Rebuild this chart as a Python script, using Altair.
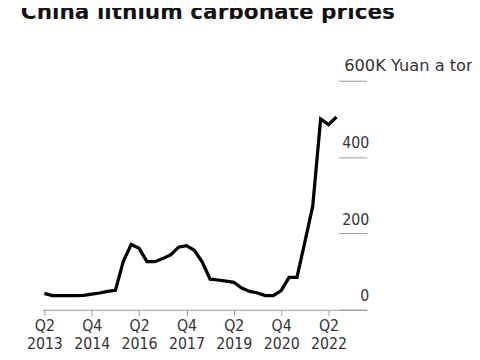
import altair as alt
import pandas as pd

# Quarterly prices, thousand yuan per ton, Q2 2013 .. Q3 2022
prices = [43, 37, 37, 37, 37, 38, 41, 44, 48, 51,
          127, 171, 161, 126, 126, 134, 144, 164, 168, 156,
          125, 80, 78, 75, 72, 57, 48, 44, 37, 37,
          50, 85, 85, 177, 272, 500, 485, 505]
quarter_index = list(range(len(prices)))

tick_values = [0, 6, 12, 18, 24, 30, 36]
tick_quarters = ["Q2", "Q4", "Q2", "Q4", "Q2", "Q4", "Q2"]
tick_years = ["2013", "2014", "2016", "2017", "2019", "2020", "2022"]

y_ticks = [0, 200, 400, 600]
unit_label = ["600K Yuan a ton"]
unit_value = [600]

title_text = "China lithium carbonate prices"

df = pd.DataFrame({"q": quarter_index, "price": prices})
unit_df = pd.DataFrame({"y": unit_value, "t": unit_label})

label_arr = "[" + ",".join(
    "['%s','%s']" % (q, y) for q, y in zip(tick_quarters, tick_years)) + "]"

FONT = "DejaVu Sans Condensed"
LABEL_COLOR = "#333333"
AXIS_COLOR = "#999999"

x_scale = alt.Scale(domain=[-0.25, 40.85], nice=False, zero=False)
y_scale = alt.Scale(domain=[0, 600], nice=False)

line = alt.Chart(df).mark_line(color="#000000", strokeWidth=3.3, strokeJoin="miter").encode(
    x=alt.X("q:Q", scale=x_scale,
            axis=alt.Axis(values=tick_values, title=None, grid=False,
                          labelExpr=label_arr + "[round(datum.value/6)]",
                          labelFont=FONT, labelFontSize=16, labelColor=LABEL_COLOR,
                          labelLineHeight=18, labelPadding=2, labelBaseline="top",
                          tickSize=6, tickColor=AXIS_COLOR, domainColor=AXIS_COLOR,
                          labelFlush=False, labelOverlap=False)),
    y=alt.Y("price:Q", scale=y_scale,
            axis=alt.Axis(orient="right", values=y_ticks, title=None, grid=False,
                          domain=False, offset=-29, tickSize=29, tickColor=AXIS_COLOR,
                          labelExpr="datum.value == 600 ? '' : datum.label",
                          labelFont=FONT, labelFontSize=16, labelColor=LABEL_COLOR,
                          labelAlign="right", labelBaseline="alphabetic",
                          labelPadding=2, labelOffset=-9.5, labelFlush=False,
                          labelOverlap=False)),
)

unit = alt.Chart(unit_df).mark_text(
    align="left", baseline="alphabetic", dy=-9.7, font="DejaVu Sans", fontSize=16.5,
    color=LABEL_COLOR
).encode(
    y=alt.Y("y:Q", scale=y_scale),
    x=alt.value(307),
    text="t:N",
)

chart = alt.layer(line, unit).properties(
    width=330, height=233,
    autosize=alt.AutoSizeParams(type="none"),
    padding={"left": 35, "top": 71, "right": 107, "bottom": 42},
    title=alt.TitleParams(title_text, anchor="start", frame="group",
                          font="DejaVu Sans", fontWeight="bold", fontSize=22,
                          color="#111111", baseline="alphabetic", offset=18, dx=-22),
).configure_view(stroke=None)

chart.save("out.html", embed_options={"renderer": "svg", "actions": False})
